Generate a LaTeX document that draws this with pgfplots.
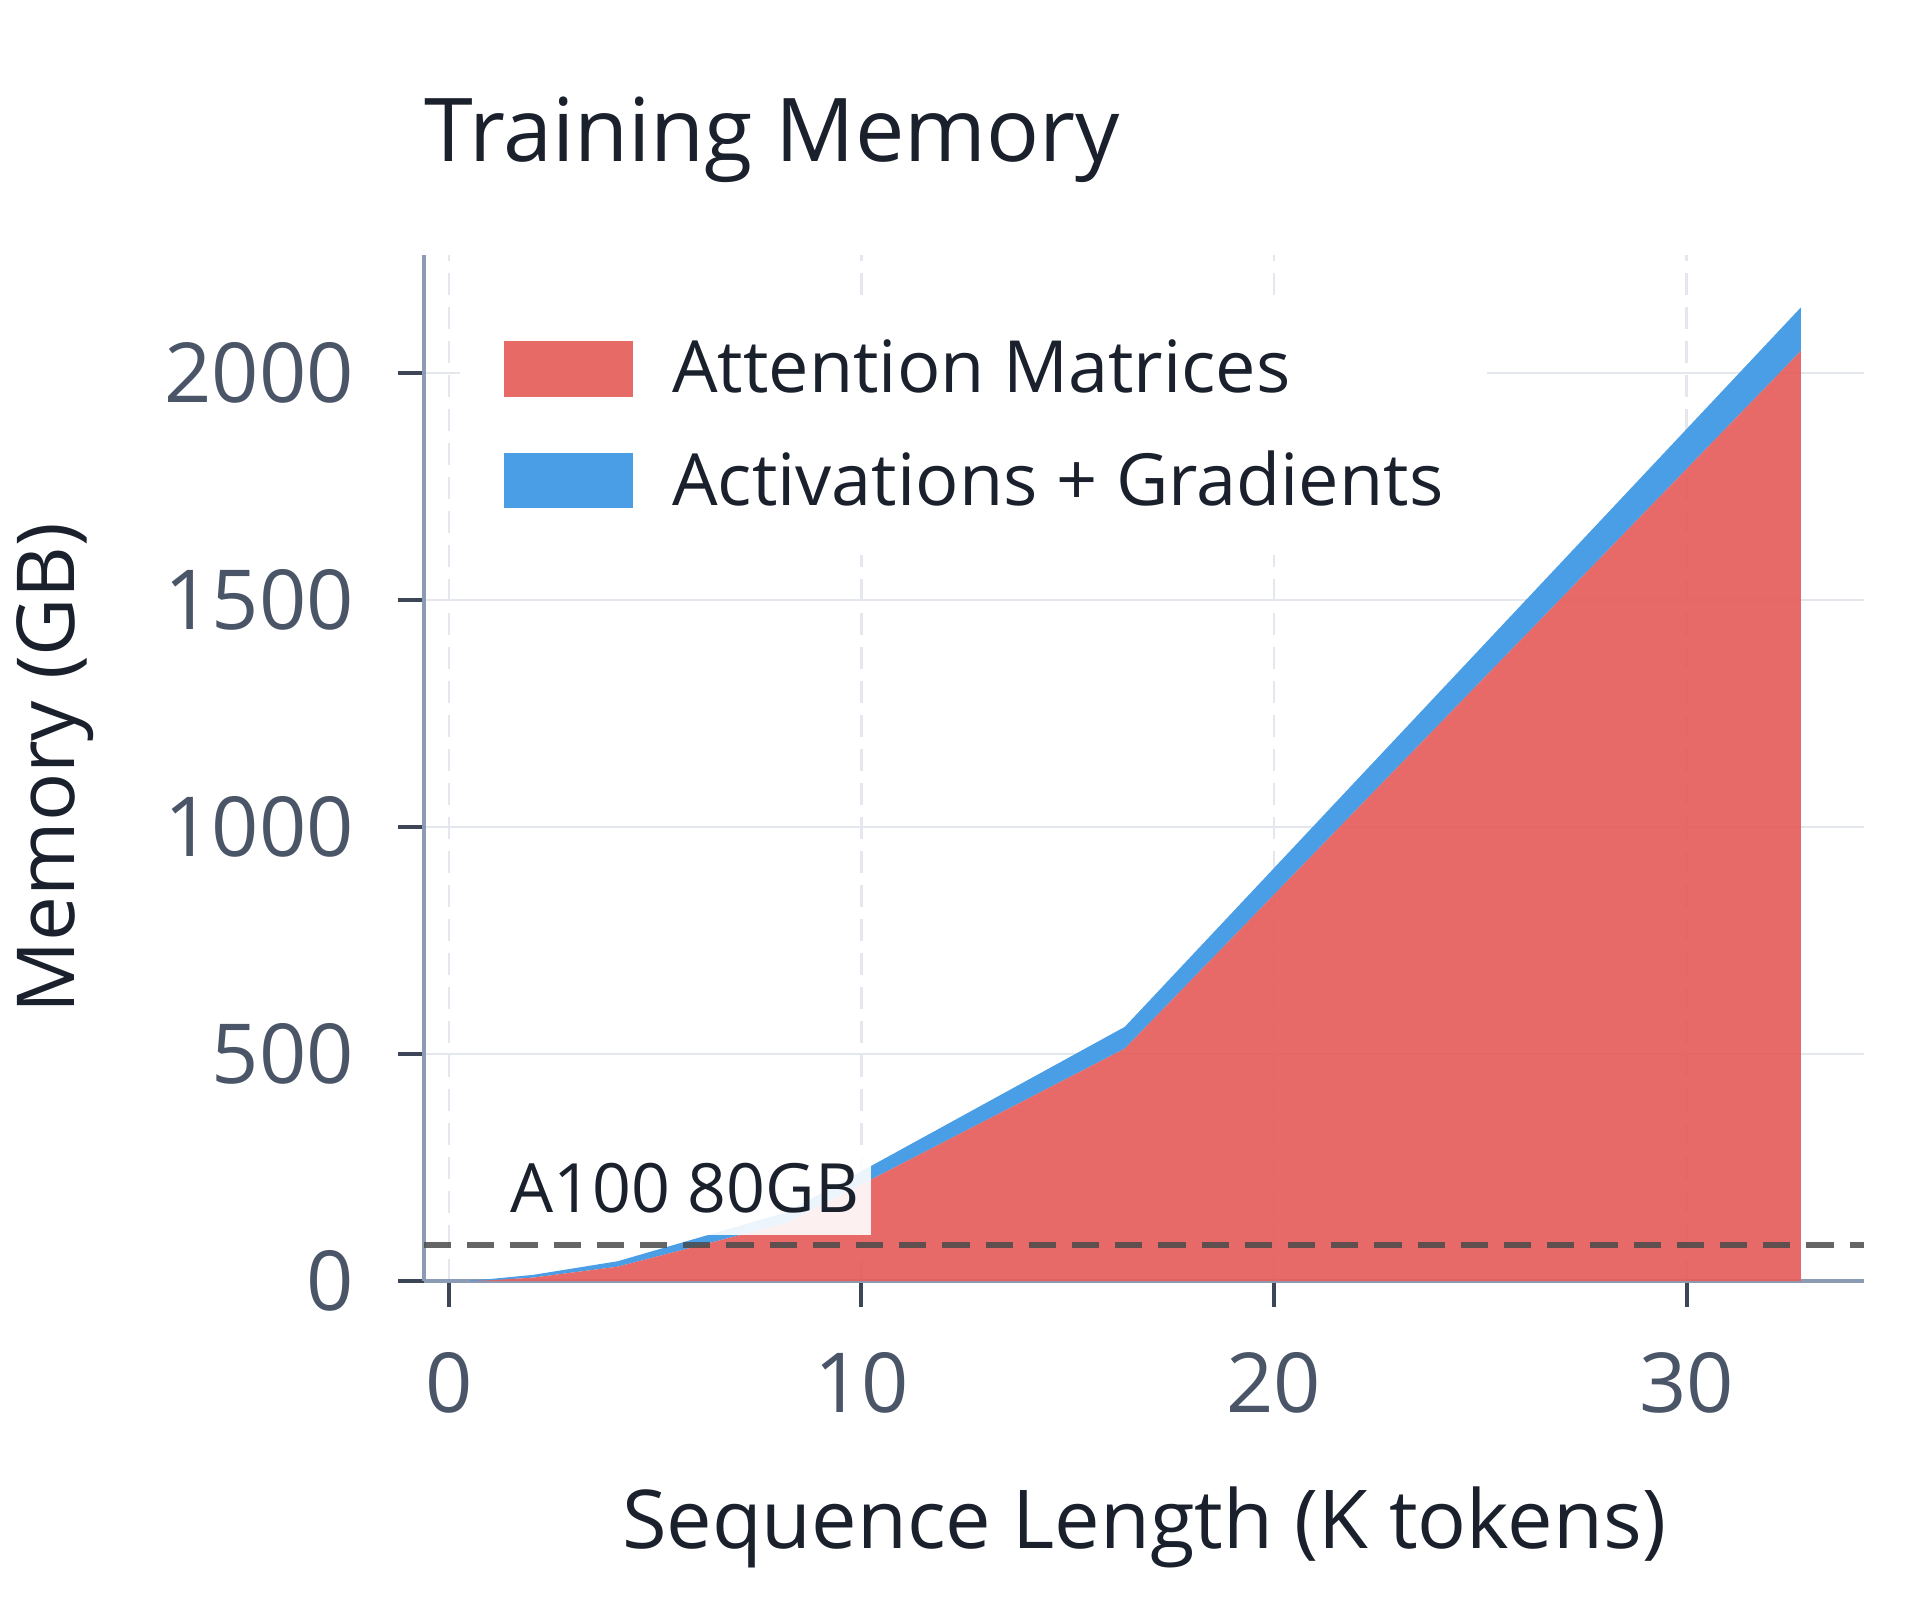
\documentclass[border=0pt]{standalone}
\usepackage{fontspec}
\setmainfont{Open Sans}
\usepackage{pgfplots}
\usepackage{pgfplotstable}
\pgfplotsset{compat=1.18}

\definecolor{attn}{HTML}{E65F5C}
\definecolor{actv}{HTML}{4A9EE6}
\definecolor{ink}{HTML}{1A202C}
\definecolor{ticktext}{HTML}{4A5568}
\definecolor{axisline}{HTML}{8A9BB3}
\definecolor{tickmark}{HTML}{3D4656}
\definecolor{gridc}{HTML}{E4E8EE}
\definecolor{limit}{HTML}{4A4A4A}

% sequence length (K tokens), attention matrices (GB), activations + gradients (GB)
\pgfplotstableread{
len    attn  act
0.512  0.5   1.5
1.024  2     3
2.048  8     6
4.096  32    12
8.192  128   24
16.384 512   48
32.768 2048  96
}\memtable

\begin{document}
\begin{tikzpicture}
\begin{axis}[
    set layers,
    scale only axis,
    width=360pt, height=256.6pt,
    at={(0,0)}, anchor=south west,
    xmin=-0.6, xmax=34.3,
    ymin=0, ymax=2260,
    xtick={0,10,20,30},
    ytick={0,500,1000,1500,2000},
    /pgf/number format/assume math mode=true,
    /pgf/number format/1000 sep={},
    axis x line*=bottom, axis y line*=left,
    axis line style={color=axisline, line width=1pt, -},
    tick align=outside,
    major tick length=6.5pt,
    tick style={color=tickmark, line width=1pt},
    ticklabel style={font=\fontsize{20.7}{24}\selectfont, color=ticktext},
    yticklabel style={xshift=-7.5pt},
    xticklabel style={yshift=-7.7pt},
    xmajorgrids, ymajorgrids,
    x grid style={color=gridc, line width=0.6pt, dash pattern=on 5.5pt off 3pt},
    y grid style={color=gridc, line width=0.6pt},
    title={Training Memory},
    title style={at={(axis description cs:0,1.0678)}, anchor=base west,
        font=\fontsize{22}{26}\selectfont, color=ink, inner sep=0pt},
    xlabel={Sequence Length (K tokens)},
    xlabel style={at={(axis description cs:0.5,-0.26)}, anchor=base,
        font=\fontsize{20.3}{24}\selectfont, color=ink, inner sep=0pt},
    ylabel={Memory (GB)},
    ylabel style={at={(axis description cs:-0.2561,0.5)}, anchor=center,
        font=\fontsize{20}{24}\selectfont, color=ink, inner sep=0pt},
    legend cell align=left,
    legend style={at={(axis description cs:0.0247,0.961)}, anchor=north west,
        draw=none, fill=white, inner xsep=11pt, inner ysep=11pt,
        nodes={inner sep=0pt}, row sep=13pt, column sep=9.8pt,
        font=\fontsize{18}{22}\selectfont, text=ink},
    legend image code/.code={\fill[#1] (0pt,-6.9pt) rectangle (32.2pt,6.9pt);},
    stack plots=y,
]
\addplot[draw=none, fill=attn, fill opacity=0.93]
    table[x=len, y=attn] {\memtable} \closedcycle;
\addlegendentry{Attention Matrices}
\addplot[draw=none, fill=actv]
    table[x=len, y=act] {\memtable} \closedcycle;
\addlegendentry{Activations + Gradients}
\addplot[stack plots=false, forget plot, on layer=axis foreground,
    color=limit, opacity=0.85,
    line width=1.4pt, dash pattern=on 6.8pt off 4pt]
    coordinates {(-0.6,80) (34.3,80)};
\pgfplotsextra{%
  \begin{pgfonlayer}{axis foreground}
  \node[anchor=base west, fill=white, fill opacity=0.9, text opacity=1,
      inner xsep=3pt, inner ysep=3.3pt, text depth=2.3pt,
      font=\fontsize{17}{20}\selectfont, text=ink]
      at (axis cs:1.19,151) {A100 80GB};
  \end{pgfonlayer}%
}
\end{axis}
\path[use as bounding box] (-106pt,-79.7pt) rectangle (374pt,320.3pt);
\end{tikzpicture}
\end{document}
